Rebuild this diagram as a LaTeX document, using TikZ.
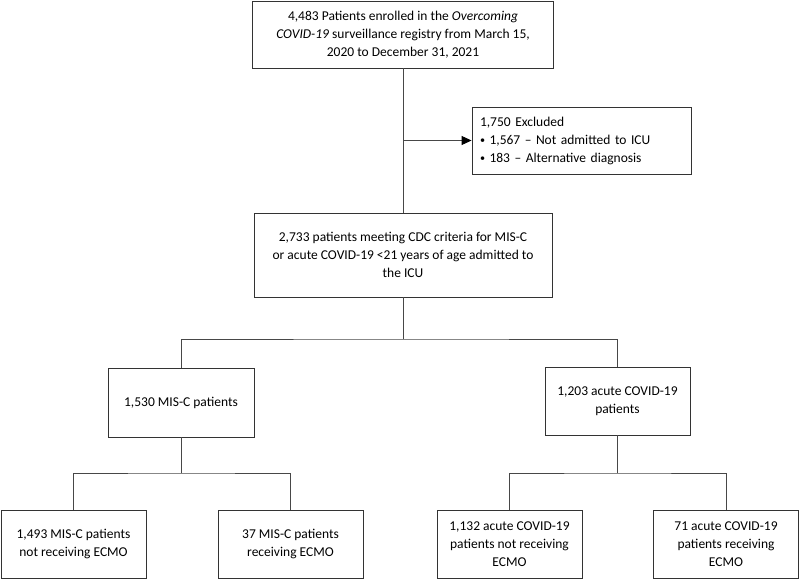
\documentclass[tikz,border=0pt]{standalone}
\usepackage{fontspec}
\setmainfont{Carlito}
\usepackage{tikz}
\usetikzlibrary{arrows,arrows.meta}
\usetikzlibrary{positioning}
\usetikzlibrary{calc}
\newcommand{\smallbullet}{\raisebox{0.1ex}{\scalebox{0.75}{\textbullet}}}
\tikzset{
  flowbox/.style={draw=black!80,line width=0.9pt,align=center,inner sep=0pt,fill=white,
    text=black,font=\fontsize{13.5}{18}\selectfont},
  leafbox/.style={flowbox,minimum width=145pt,minimum height=68pt},
  link/.style={line width=0.9pt,color=black!72}
}
\begin{document}
\begin{tikzpicture}[line cap=rect,line join=miter,>={Triangle[length=10pt,width=9pt]},x=1pt,y=-1pt]
\useasboundingbox (0,0) rectangle (800,580);
\node[flowbox,minimum width=301pt,minimum height=67pt] (enrolled) at (403,34.5)
  {4,483 Patients enrolled in the \textit{Overcoming}\\ \textit{COVID-19} surveillance registry from March 15,\\ 2020 to December 31, 2021};
\node[flowbox,minimum width=219pt,minimum height=67pt,align=left,text width=203pt] (excluded) at (581.5,140.5)
  {1,750 Excluded\\ \smallbullet{} 1,567 -- Not admitted to ICU\\ \smallbullet{} 183 -- Alternative diagnosis};
\node[flowbox,minimum width=298pt,minimum height=84pt] (icu) at (403,255)
  {2,733 patients meeting CDC criteria for MIS-C\\ or acute COVID-19 <21 years of age admitted to\\ the ICU};
\node[flowbox,minimum width=146pt,minimum height=69pt] (misc) at (181,402.5) {1,530 MIS-C patients};
\node[flowbox,minimum width=145pt,minimum height=68pt] (acute) at (617.5,401) {1,203 acute COVID-19\\ patients};
\node[leafbox] (miscno) at (73.5,544) {1,493 MIS-C patients\\ not receiving ECMO};
\node[leafbox] (miscyes) at (290.5,544) {37 MIS-C patients\\ receiving ECMO};
\node[leafbox] (acuteno) at (509.5,544) {1,132 acute COVID-19\\ patients not receiving\\ ECMO};
\node[leafbox] (acuteyes) at (726,544) {71 acute COVID-19\\ patients receiving\\ ECMO};
\coordinate (split1) at (403,339);
\coordinate (split2) at (181,473);
\coordinate (split3) at (617.5,473);
\draw[link] (enrolled) -- (icu);
\draw[-{Triangle[length=10pt,width=9pt,fill=black,color=black]},link] (enrolled.south |- excluded.west) -- (excluded.west);
\draw[link] (icu) -- (split1);
\draw[link] (misc.north) |- (split1) -| (acute.north);
\draw[link] (misc) -- (split2);
\draw[link] (miscno.north) |- (split2) -| (miscyes.north);
\draw[link] (acute) -- (split3);
\draw[link] (acuteno.north) |- (split3) -| (acuteyes.north);
\end{tikzpicture}
\end{document}
